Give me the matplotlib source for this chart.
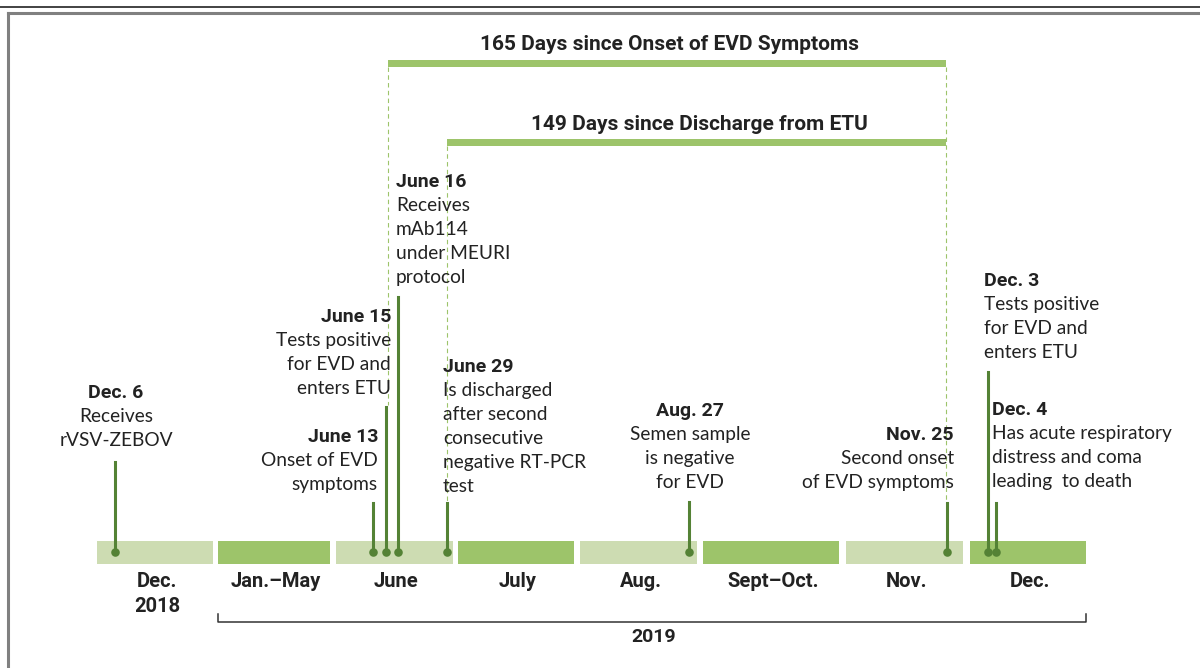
import matplotlib
matplotlib.use("Agg")
import matplotlib.pyplot as plt
from matplotlib.lines import Line2D

# timeline segments (positions along the drawn timeline)
segments = ["Dec.\n2018", "Jan.–May", "June", "July", "Aug.", "Sept–Oct.", "Nov.", "Dec."]
seg_start = [97, 218, 336, 458, 580, 703, 846, 970]
seg_end = [213, 330, 453, 574, 697, 839, 963, 1086]

# events
event_dates = ["Dec. 6", "June 13", "June 15", "June 16", "June 29",
               "Aug. 27", "Nov. 25", "Dec. 3", "Dec. 4"]
event_notes = [
    ["Receives", "rVSV-ZEBOV"],
    ["Onset of EVD", "symptoms"],
    ["Tests positive", "for EVD and", "enters ETU"],
    ["Receives", "mAb114", "under MEURI", "protocol"],
    ["Is discharged", "after second", "consecutive", "negative RT-PCR", "test"],
    ["Semen sample", "is negative", "for EVD"],
    ["Second onset", "of EVD symptoms"],
    ["Tests positive", "for EVD and", "enters ETU"],
    ["Has acute respiratory", "distress and coma", "leading  to death"],
]
event_pos = [115, 373, 386, 398, 447, 689, 947, 988, 996]

# intervals
span_labels = ["165 Days since Onset of EVD Symptoms", "149 Days since Discharge from ETU"]
span_start = [388, 447]
span_end = [946, 946]

light = "#cddcb2"
dark = "#9dc46a"
stem = "#548235"
txt = "#222222"
head_font = ["Roboto", "DejaVu Sans"]
body_font = ["Lato", "DejaVu Sans"]

fig = plt.figure(figsize=(12, 6.68), dpi=100)
ax = fig.add_axes([0, 0, 1, 1])
ax.set_xlim(0, 1200)
ax.set_ylim(668, 0)
ax.axis("off")

bar_y = 552
for i, lab in enumerate(segments):
    col = light if i % 2 == 0 else dark
    ax.barh(bar_y, seg_end[i] - seg_start[i], left=seg_start[i], height=23,
            color=col, zorder=1)
    ax.text((seg_start[i] + seg_end[i]) / 2 + 2, 572, lab, ha="center", va="top",
            fontsize=14.5, fontweight="bold", family=head_font,
            color=txt, linespacing=1.4)

# 2019 bracket
ax.plot([seg_start[1], seg_start[1], seg_end[-1], seg_end[-1]], [614, 622, 622, 614],
        color="#333333", lw=1.1)
ax.text((seg_start[1] + seg_end[-1]) / 2 + 2, 637, "2019", ha="center", va="center",
        fontsize=14, fontweight="bold", family=head_font, color=txt)

# stems: top of stem, text anchor, alignment, date-label height
stem_top = [462, 503, 407, 297, 503, 502, 503, 372, 503]
text_x = [116, 378, 391, 396, 443, 690, 954, 984, 992]
text_ha = ["center", "right", "right", "left", "left", "center", "right", "left", "left"]
date_y = [393, 437, 317, 182, 367, 411, 435, 281, 410]

for i in range(len(event_dates)):
    ax.plot([event_pos[i], event_pos[i]], [stem_top[i], bar_y], color=stem, lw=2.2, zorder=3)
    ax.scatter([event_pos[i]], [bar_y], s=38, color=stem, zorder=4, linewidths=0)
    ax.text(text_x[i], date_y[i], event_dates[i], ha=text_ha[i], va="center",
            fontsize=14, fontweight="bold", family=head_font, color=txt)
    for k, line in enumerate(event_notes[i]):
        ax.text(text_x[i], date_y[i] + 23.8 * (k + 1), line, ha=text_ha[i], va="center",
                fontsize=13.8, family=body_font, color=txt)

# interval bars
span_y = [63, 142]
for i, lab in enumerate(span_labels):
    ax.barh(span_y[i], span_end[i] - span_start[i], left=span_start[i], height=7,
            color=dark, zorder=2)
    ax.text((span_start[i] + span_end[i]) / 2 + 3, span_y[i] - 18, lab,
            ha="center", va="center", fontsize=15, fontweight="bold",
            family=head_font, color=txt)

# dashed guides
ax.plot([388, 388], [67, 405], color=dark, lw=0.8, ls=(0, (4, 3)), zorder=0)
ax.plot([447, 447], [146, 503], color=dark, lw=0.8, ls=(0, (4, 3)), zorder=0)
ax.plot([946, 946], [67, 503], color=dark, lw=0.8, ls=(0, (4, 3)), zorder=0)

# frame lines
fig.add_artist(Line2D([0, 1], [1 - 6.5 / 668] * 2, color="#222222", lw=1.2))
fig.add_artist(Line2D([8 / 1200, 1], [1 - 13 / 668] * 2, color="#808080", lw=2.2))
fig.add_artist(Line2D([8 / 1200] * 2, [0, 1 - 13 / 668], color="#808080", lw=2.2))

fig.savefig("out.png", dpi=100)
